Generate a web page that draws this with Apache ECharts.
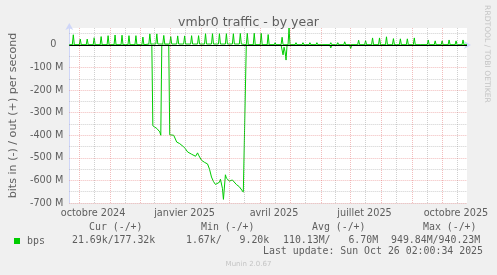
<!DOCTYPE html>
<html><head><meta charset="utf-8">
<script src="https://cdn.jsdelivr.net/npm/echarts@6/dist/echarts.min.js"></script>
<style>html,body{margin:0;padding:0;background:#F0F0F0;}#c{width:497px;height:275px;}</style>
</head><body><div id="c"></div>
<script>
// ---- data (values in Mbit/s, x = days since 2024-09-21 02:00) ----
const startDate = [2024, 9, 21];
const xLabels = ['octobre 2024', 'janvier 2025', 'avril 2025', 'juillet 2025', 'octobre 2025'];
const xLabelDates = [[2024,10,15],[2025,1,15],[2025,4,15],[2025,7,15],[2025,10,15]];
const gridMonths = [[2024,10],[2024,11],[2024,12],[2025,1],[2025,2],[2025,3],[2025,4],[2025,5],[2025,6],[2025,7],[2025,8],[2025,9],[2025,10]];
const yTicks = [-700, -600, -500, -400, -300, -200, -100, 0];
const yMinor = [-650, -550, -450, -350, -250, -150, -50, 50];

// out (+): weekly spikes
const outDays  = [4,11,18,25,32,39,46,53,60,67,74,81,88,95,102,109,116,123,130,137,144,151,158,165,172,179,186,193,200,207,214,221,228,235,242,249,256,263,270,277,284,291,298,305,312,319,326,333,340,347,354,361,368,375,382,389,396];
const outPeaks = [45,26,26,32,37,41,44,43,41,41,35,49,49,42,37,40,40,41,41,50,50,50,50,50,51,52,52,52,46,10,34,75,10,10,10,10,9,10,10,14,8,21,19,31,31,36,28,27,27,31,3,22,18,18,22,18,22];
const outBaseDays = [0, 80, 178];
const outBaseVals = [1, 4, 1];

// in (-)
const inDays = [0,83,84,85,86,88,90,91,92,93,100,101,103,105,107,108,111,113,116,119,121,123,125,127,129,130,131,133,136,139,141,143,145,147,148,151,152,154,155,157,158,159,161,164,166,168,171,173,175,176,177,178,179,180,185,186,187,213,215,216,217,218,219,240,241,242,262,263,264,282,283,284,400];
const inVals = [-1,-1,-358,-362,-366,-370,-374,-385,-400,-1,-1,-398,-398,-400,-405,-430,-437,-444,-455,-474,-482,-484,-486,-493,-478,-488,-493,-511,-520,-527,-550,-585,-605,-618,-622,-608,-595,-635,-684,-575,-590,-595,-603,-598,-603,-618,-628,-636,-652,-644,-652,-1,-9,-1,-1,-7,-1,-1,-44,-10,-30,-67,-1,-1,-9,-1,-1,-13,-1,-1,-16,-1,-1];

const statHeaders = ['Cur (-/+)', 'Min (-/+)', 'Avg (-/+)', 'Max (-/+)'];
const statValues = ['21.69k/177.32k', '1.67k/   9.20k', '110.13M/   6.70M', '949.84M/940.23M'];
const seriesName = 'bps';
const lastUpdate = 'Last update: Sun Oct 26 02:00:34 2025';

// ---- build ----
const M = 1e6;
const t0 = Date.UTC(startDate[0], startDate[1]-1, startDate[2], 2, 0, 34);
const dayOf = (y, m, d) => (Date.UTC(y, m-1, d) - t0) / 864e5;
const labelDays = xLabelDates.map(a => dayOf(a[0], a[1], a[2]));
const baseAt = d => { let v = outBaseVals[0]; outBaseDays.forEach((s, i) => { if (d >= s) v = outBaseVals[i]; }); return v; };
const outData = [[0, baseAt(0) * M]];
outDays.forEach((d, i) => {
  outData.push([d-1, baseAt(d-1) * M], [d, outPeaks[i] * M], [d+1, baseAt(d+1) * M]);
});
outData.push([400, baseAt(400) * M]);
const inData = inDays.map((d, i) => [d, inVals[i] * M]);

const FONT = 'DejaVu Sans';
const MONO = 'DejaVu Sans Mono';
const grayGrid = { color: 'rgba(150,150,150,0.45)', width: 1, type: [1, 1] };
const redGrid = { color: 'rgba(222,79,79,0.38)', width: 1, type: [1, 1] };
const gridLines = [];
gridMonths.forEach(m => {
  gridLines.push({ xAxis: dayOf(m[0], m[1], 16), lineStyle: grayGrid });
});
yMinor.forEach(v => gridLines.push({ yAxis: v * M, lineStyle: grayGrid }));
gridMonths.forEach(m => {
  gridLines.push({ xAxis: dayOf(m[0], m[1], 1), lineStyle: redGrid });
});
yTicks.filter(v => v !== 0).forEach(v => gridLines.push({ yAxis: v * M, lineStyle: redGrid }));

const chart = echarts.init(document.getElementById('c'), null, { renderer: 'canvas' });
const lineCommon = { type: 'line', showSymbol: false, symbol: 'none', animation: false,
  lineStyle: { color: '#00cc00', width: 1 }, itemStyle: { color: '#00cc00' }, z: 3 };

chart.setOption({
  backgroundColor: '#F0F0F0',
  animation: false,
  title: { text: 'vmbr0 traffic - by year', left: 'center', top: 11,
    textStyle: { fontFamily: FONT, fontSize: 12.5, fontWeight: 'normal', color: '#5e5e5e' } },
  grid: { left: 67, right: 30, top: 28, bottom: 72, backgroundColor: '#FFFFFF', show: true, borderWidth: 0 },
  legend: { data: [{ name: seriesName, icon: 'rect' }], left: 14, top: 236, padding: 0,
    itemWidth: 6, itemHeight: 6, selectedMode: false,
    textStyle: { fontFamily: MONO, fontSize: 9.9, color: '#5e5e5e', padding: [0, 0, 0, 2] } },
  xAxis: { type: 'value', min: 0, max: 400,
    axisLine: { show: true, lineStyle: { color: '#CFD6F8' }, symbol: ['none', 'arrow'], symbolSize: [6, 7], symbolOffset: [0, 4] },
    axisTick: { show: false }, splitLine: { show: false },
    axisLabel: { customValues: labelDays, margin: 5, fontFamily: FONT, fontSize: 9.7, color: '#5e5e5e',
      formatter: v => { const i = labelDays.findIndex(d => Math.abs(d - v) < 0.01); return i >= 0 ? xLabels[i] : ''; } } },
  yAxis: { type: 'value', min: -700 * M, max: 75 * M, interval: 100 * M,
    name: 'bits in (-) / out (+) per second', nameLocation: 'middle', nameRotate: 90, nameGap: 50,
    nameTextStyle: { fontFamily: FONT, fontSize: 11.1, color: '#5e5e5e' },
    axisLine: { show: true, lineStyle: { color: '#CFD6F8' }, symbol: ['none', 'arrow'], symbolSize: [6, 7], symbolOffset: [0, 5] },
    axisTick: { show: false }, splitLine: { show: false },
    axisLabel: { showMaxLabel: false, margin: 6, fontFamily: FONT, fontSize: 9.7, color: '#5e5e5e',
      formatter: v => v === 0 ? '{z|0}' : (v / M) + ' M',
      rich: { z: { fontFamily: FONT, fontSize: 9.7, color: '#5e5e5e', padding: [0, 7, 0, 0] } } } },
  series: [
    { type: 'line', data: [], silent: true, z: 1, animation: false,
      markLine: { silent: true, symbol: 'none', animation: false, label: { show: false }, data: gridLines } },
    Object.assign({ name: seriesName, data: outData }, lineCommon),
    Object.assign({ name: seriesName, data: inData }, lineCommon),
    { type: 'line', data: [], silent: true, z: 5, animation: false,
      markLine: { silent: true, symbol: 'none', animation: false, label: { show: false },
        data: [{ yAxis: 0, lineStyle: { color: '#000', width: 1, type: 'solid' } }] } }
  ],
  graphic: [
    ...statHeaders.map((t, i) => ({ type: 'text', left: [89, 201, 312, 423][i], top: 222,
      style: { text: t, font: '9.9px "' + MONO + '"', fill: '#5e5e5e' } })),
    ...statValues.map((t, i) => ({ type: 'text', left: [72, 186, 283, 391][i], top: 235,
      style: { text: t, font: '9.9px "' + MONO + '"', fill: '#5e5e5e' } })),
    { type: 'text', right: 14, top: 246, style: { text: lastUpdate, font: '9.9px "' + MONO + '"', fill: '#5e5e5e' } },
    { type: 'text', x: 248.5, y: 264, style: { text: 'Munin 2.0.67', font: '7px "' + FONT + '"', fill: '#c4c4c4', align: 'center', verticalAlign: 'middle' } },
    { type: 'text', x: 487, y: 54, rotation: -Math.PI / 2,
      style: { text: 'RRDTOOL / TOBI OETIKER', font: '7.6px "' + FONT + '"', fill: '#c4c4c4', align: 'center', verticalAlign: 'middle' } }
  ]
});
</script></body></html>
